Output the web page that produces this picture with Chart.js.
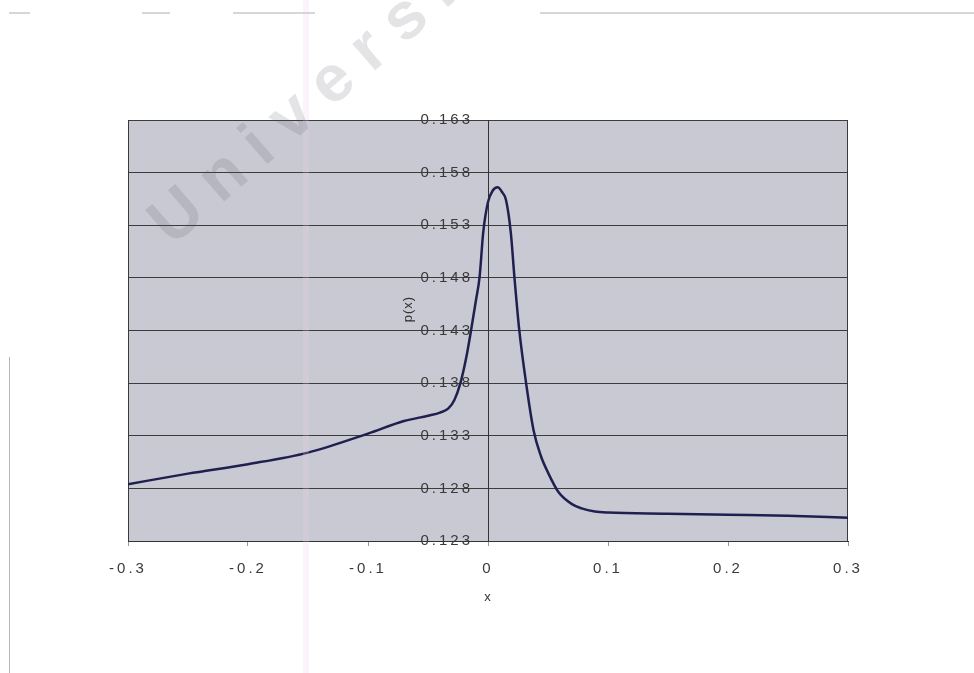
<!DOCTYPE html>
<html>
<head>
<meta charset="utf-8">
<script src="https://cdn.jsdelivr.net/npm/chart.js@4.4.1/dist/chart.umd.min.js"></script>
<style>
  html, body { margin: 0; padding: 0; background: #fff; }
  #chart { display: block; }
</style>
</head>
<body>
<canvas id="chart" width="974" height="673"></canvas>
<script>
// values
const xValues = [-0.3, -0.25, -0.2, -0.15, -0.1, -0.07, -0.05, -0.04, -0.033, -0.028, -0.023, -0.018,
    -0.014, -0.01, -0.007, -0.004, 0, 0.004, 0.008, 0.012, 0.015, 0.019, 0.022, 0.026, 0.032,
    0.038, 0.044, 0.05, 0.059, 0.07, 0.078, 0.089, 0.1, 0.15, 0.2, 0.25, 0.3]
const pValues = [0.1284, 0.1294, 0.1303, 0.1314, 0.1332, 0.1344, 0.1349, 0.1352, 0.1356, 0.1364, 0.1380, 0.1405,
    0.1431, 0.1459, 0.1481, 0.1523, 0.1552, 0.1563, 0.1566, 0.1561, 0.1554, 0.1523, 0.1481, 0.1431, 0.1378,
    0.1335, 0.1311, 0.1295, 0.1276, 0.1265, 0.1261, 0.1258, 0.1257, 0.1256, 0.1255, 0.1254, 0.1252]
const xTickLabels = ['-0.3', '-0.2', '-0.1', '0', '0.1', '0.2', '0.3']
const yTickLabels = ['0.123', '0.128', '0.133', '0.138', '0.143', '0.148', '0.153', '0.158', '0.163']
const xTitle = 'x'
const yTitle = 'p(x)'
const watermark = 'University of Cape Town'

const points = xValues.map((x, i) => ({x: x, y: pValues[i]}))

const paper = {
    id: 'paper',
    beforeDraw(chart){
        const {ctx, chartArea: a} = chart
        ctx.save()
        ctx.fillStyle = '#ffffff'
        ctx.fillRect(0, 0, chart.width, chart.height)
        ctx.fillStyle = '#c9c9d3'
        ctx.fillRect(a.left, a.top, a.right - a.left, a.bottom - a.top)
        ctx.restore()
        ctx.letterSpacing = '3px'

        // y labels sit left of the axis at x = 0, not on it
        const ys = chart.scales.y
        const axisX = chart.scales.x.getPixelForValue(0)
        ys.getLabelItems(a).forEach(item => {
            item.options.translation[0] = axisX - 15
        })
    },
    beforeDatasetsDraw(chart){
        const {ctx, chartArea: a} = chart
        ctx.save()
        ctx.strokeStyle = '#3a3a3a'
        ctx.lineWidth = 1
        ctx.beginPath()
        ctx.moveTo(a.left + 0.5, a.top)
        ctx.lineTo(a.left + 0.5, a.bottom)
        ctx.moveTo(a.right - 0.5, a.top)
        ctx.lineTo(a.right - 0.5, a.bottom)
        ctx.stroke()
        ctx.restore()
    },
    afterDraw(chart){
        const ctx = chart.ctx
        const xs = chart.scales.x
        ctx.save()
        ctx.letterSpacing = '1px'
        ctx.fillStyle = '#333'
        ctx.font = '13px "Liberation Sans", Arial, sans-serif'
        ctx.textAlign = 'center'
        ctx.textBaseline = 'middle'
        ctx.fillText(xTitle, xs.getPixelForValue(0), 597)
        ctx.translate(408, 309)
        ctx.rotate(-Math.PI / 2)
        ctx.fillText(yTitle, 0, 0)
        ctx.restore()

        // scan marks
        ctx.save()
        ctx.letterSpacing = '0px'
        ctx.strokeStyle = 'rgba(120,120,120,0.6)'
        ctx.lineWidth = 1
        ctx.beginPath()
        ctx.moveTo(9, 13); ctx.lineTo(30, 13)
        ctx.moveTo(142, 13); ctx.lineTo(170, 13)
        ctx.moveTo(233, 13); ctx.lineTo(315, 13)
        ctx.moveTo(540, 13); ctx.lineTo(974, 13)
        ctx.stroke()
        ctx.strokeStyle = 'rgba(150,150,150,0.7)'
        ctx.beginPath()
        ctx.moveTo(9.5, 357); ctx.lineTo(9.5, 673)
        ctx.stroke()
        ctx.fillStyle = 'rgba(235,210,235,0.22)'
        ctx.fillRect(303, 0, 6, chart.height)

        // watermark
        ctx.translate(172, 247)
        ctx.rotate(-41 * Math.PI / 180)
        ctx.letterSpacing = '17px'
        ctx.font = 'bold 66px "Liberation Sans", Arial, sans-serif'
        ctx.fillStyle = 'rgba(90,90,100,0.16)'
        ctx.textAlign = 'left'
        ctx.textBaseline = 'alphabetic'
        ctx.fillText(watermark, 0, 0)
        ctx.restore()
    }
}

const tickFont = {family: '"Liberation Sans", Arial, sans-serif', size: 15}

new Chart(document.getElementById('chart'), {
    type: 'line',
    data: {
        datasets: [{
            data: points,
            borderColor: '#202050',
            borderWidth: 2.5,
            pointRadius: 0,
            fill: false,
            cubicInterpolationMode: 'monotone'
        }]
    },
    options: {
        responsive: false,
        animation: false,
        layout: {padding: {top: 120, left: 128, right: 126, bottom: 0}},
        plugins: {legend: {display: false}, tooltip: {enabled: false}},
        scales: {
            x: {
                type: 'linear',
                min: -0.3,
                max: 0.3,
                afterFit(scale){ scale.height = 132 },
                grid: {drawOnChartArea: false, drawTicks: true, tickLength: 5, color: '#999'},
                border: {display: true, color: '#333', width: 1},
                ticks: {
                    stepSize: 0.1,
                    padding: 14,
                    color: '#3a3a3a',
                    font: tickFont,
                    maxRotation: 0,
                    autoSkip: false,
                    callback: (v, i) => xTickLabels[i]
                }
            },
            y: {
                type: 'linear',
                position: {x: 0},
                min: 0.123,
                max: 0.163,
                grid: {color: '#3c3c3c', lineWidth: 1, tickLength: 7},
                border: {display: true, color: '#333', width: 1},
                ticks: {
                    stepSize: 0.005,
                    padding: 7,
                    color: '#3a3a3a',
                    font: tickFont,
                    autoSkip: false,
                    callback: (v, i) => yTickLabels[i]
                }
            }
        }
    },
    plugins: [paper]
})
</script>
</body>
</html>
